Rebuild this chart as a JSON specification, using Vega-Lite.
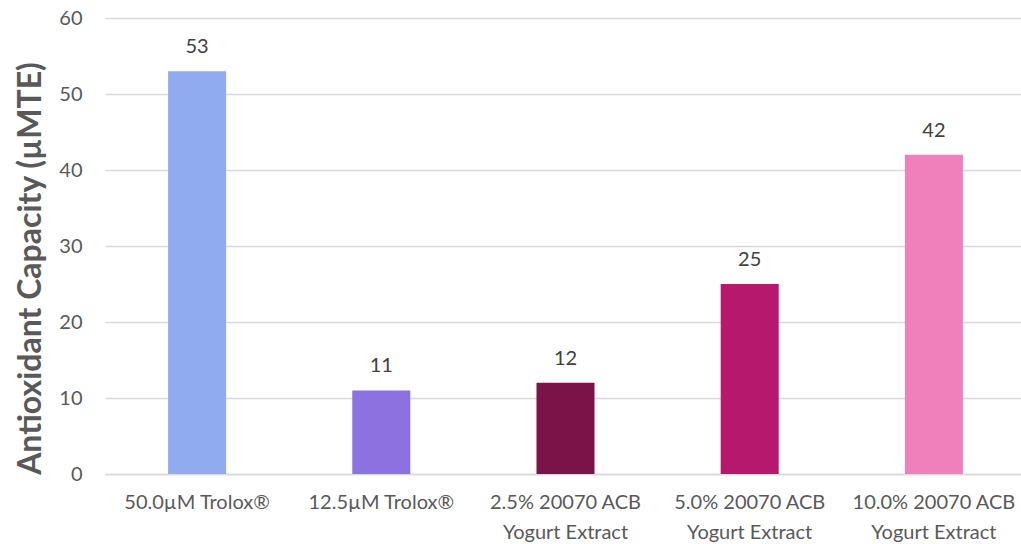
{
  "$schema": "https://vega.github.io/schema/vega-lite/v6.json",
  "width": 921,
  "height": 456,
  "autosize": {"type": "none"},
  "padding": {"left": 105, "top": 18, "right": 0, "bottom": 70},
  "background": "white",
  "config": {"view": {"stroke": null}, "font": "Lato"},
  "data": {"values": [
    {"sample": "50.0µM Trolox®", "value": 53, "color": "#91ABF0"},
    {"sample": "12.5µM Trolox®", "value": 11, "color": "#8B72E0"},
    {"sample": "2.5% 20070 ACB Yogurt Extract", "value": 12, "color": "#7B1248"},
    {"sample": "5.0% 20070 ACB Yogurt Extract", "value": 25, "color": "#B5186D"},
    {"sample": "10.0% 20070 ACB Yogurt Extract", "value": 42, "color": "#F080BC"}
  ]},
  "encoding": {
    "x": {"field": "sample", "type": "nominal", "sort": null,
      "scale": {"paddingInner": 0.685, "paddingOuter": 0.3425},
      "axis": {"title": null, "labelAngle": 0, "ticks": false, "domain": true, "domainColor": "#D9D9D9", "domainWidth": 1.5,
        "labelFont": "Lato", "labelFontSize": 20, "labelColor": "#595959", "labelPadding": 18, "labelLineHeight": 30,
        "labelExpr": "indexof(datum.label, ' Yogurt') > 0 ? [replace(datum.label, ' Yogurt Extract', ''), 'Yogurt Extract'] : datum.label"}},
    "y": {"field": "value", "type": "quantitative",
      "scale": {"domain": [0, 60]},
      "axis": {"title": "Antioxidant Capacity (µMTE)", "values": [0, 10, 20, 30, 40, 50, 60], "domain": false, "ticks": false,
        "gridColor": "#D9D9D9", "gridWidth": 1.5,
        "labelFont": "Lato", "labelFontSize": 20, "labelColor": "#595959", "labelPadding": 23,
        "titleFont": "Lato", "titleFontSize": 32, "titleFontWeight": "bold", "titleColor": "#595959",
        "titleX": -75, "titleY": 250, "titleAngle": -90, "titleAlign": "center", "titleBaseline": "middle"}}
  },
  "layer": [
    {"mark": {"type": "bar"}, "encoding": {"color": {"field": "color", "type": "nominal", "scale": null}}},
    {"mark": {"type": "text", "baseline": "bottom", "dy": -14, "fontSize": 20, "font": "Lato", "color": "#404040"},
     "encoding": {"text": {"field": "value", "type": "quantitative"}}}
  ]
}
